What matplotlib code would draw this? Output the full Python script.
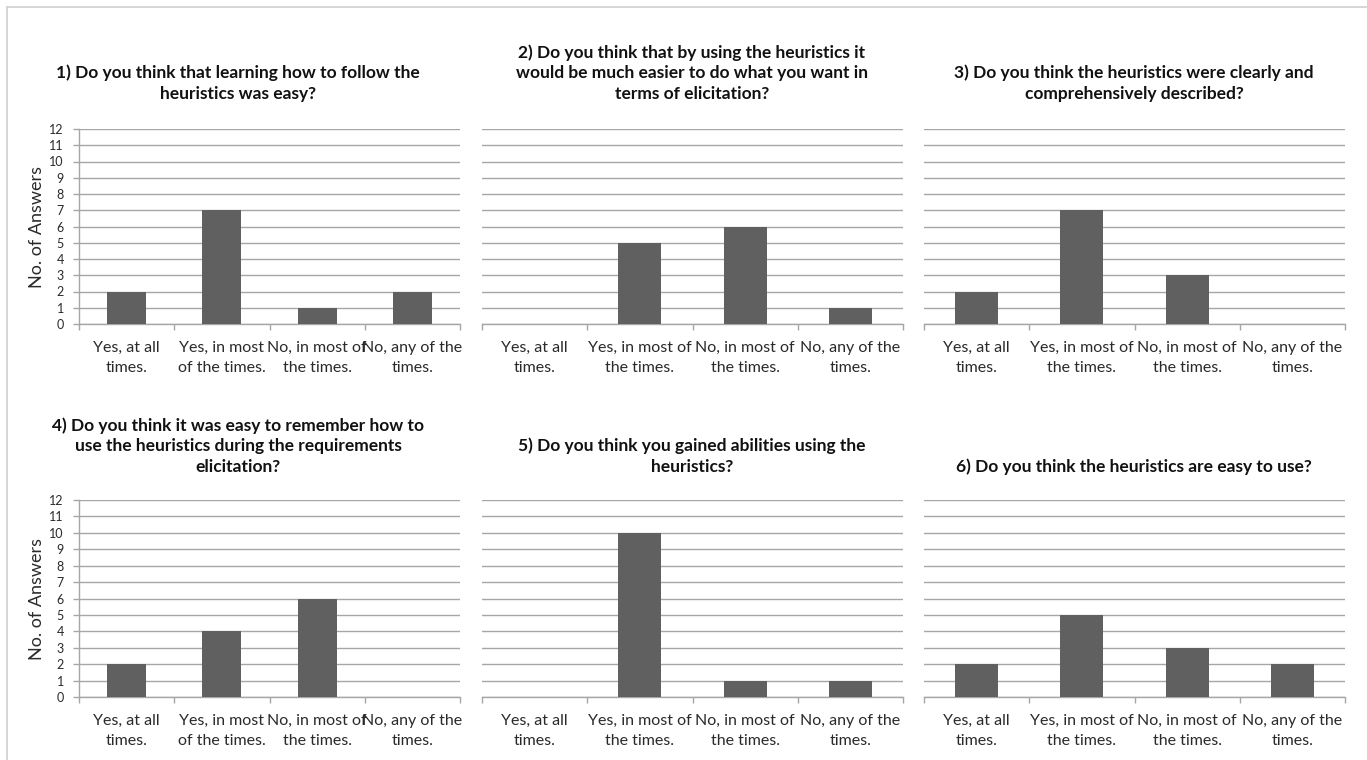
import matplotlib
matplotlib.use("Agg")
import matplotlib.pyplot as plt
from matplotlib.lines import Line2D

plt.rcParams['font.family'] = ['Lato', 'DejaVu Sans']

# ---- data ----
categories = ["Yes, at all times.", "Yes, in most of the times.",
              "No, in most of the times.", "No, any of the times."]
labels_narrow = ["Yes, at all\ntimes.", "Yes, in most\nof the times.",
                 "No, in most of\nthe times.", "No, any of the\ntimes."]
labels_wide = ["Yes, at all\ntimes.", "Yes, in most of\nthe times.",
               "No, in most of\nthe times.", "No, any of the\ntimes."]
titles = [
    "1) Do you think that learning how to follow the\nheuristics was easy?",
    "2) Do you think that by using the heuristics it\nwould be much easier to do what you want in\nterms of elicitation?",
    "3) Do you think the heuristics were clearly and\ncomprehensively described?",
    "4) Do you think it was easy to remember how to\nuse the heuristics during the requirements\nelicitation?",
    "5) Do you think you gained abilities using the\nheuristics?",
    "6) Do you think the heuristics are easy to use?",
]
q1 = [2, 7, 1, 2]
q2 = [0, 5, 6, 1]
q3 = [2, 7, 3, 0]
q4 = [2, 4, 6, 0]
q5 = [0, 10, 1, 1]
q6 = [2, 5, 3, 2]
values = [q1, q2, q3, q4, q5, q6]
y_ticks = list(range(0, 13))
ylabel = "No. of Answers"

W, H = 1367, 760
fig = plt.figure(figsize=(W / 100, H / 100), dpi=100)

def fx(px):
    return px / W

def fy(py):
    return 1 - py / H

# panel geometry in pixels: (left, right, top(12), bottom(0))
cols = [(79, 460), (482, 903), (924, 1345)]
rows = [(129, 324), (500, 697)]
title_cx = [238, 692, 1134]
title_bottom = [102, 475]

bar_color = "#606060"
grid_color = "#a6a6a6"

for i in range(6):
    r, c = divmod(i, 3)
    l, rr = cols[c]
    t, b = rows[r]
    ax = fig.add_axes([fx(l), fy(b), fx(rr - l), (b - t) / H])
    x = list(range(len(categories)))
    ax.bar(x, values[i], width=0.41, color=bar_color, zorder=3)
    ax.set_xlim(-0.5, 3.5)
    ax.set_ylim(0, 12)
    ax.set_yticks(y_ticks)
    ax.yaxis.grid(True, color=grid_color, linewidth=1.0, zorder=0)
    ax.set_axisbelow(True)
    for s in ["top", "right"]:
        ax.spines[s].set_visible(False)
    ax.spines["bottom"].set_color(grid_color)
    ax.spines["bottom"].set_linewidth(1.0)
    ax.set_xticks([-0.5, 0.5, 1.5, 2.5, 3.5])
    ax.set_xticklabels([])
    ax.tick_params(axis="x", direction="out", length=4, color=grid_color, width=1.0)
    labs = labels_narrow if c == 0 else labels_wide
    ax.set_xticks(x, minor=True)
    ax.set_xticklabels(labs, minor=True, fontsize=11.5, color="#2a2a2a",
                       linespacing=1.6)
    ax.tick_params(axis="x", which="minor", length=0, pad=12)
    if c == 0:
        ax.spines["left"].set_color(grid_color)
        ax.spines["left"].set_linewidth(1.0)
        ax.tick_params(axis="y", direction="out", length=4, color=grid_color,
                       width=1.0, labelsize=9, labelcolor="#2a2a2a", pad=7)
        ax.set_ylabel(ylabel, fontsize=13, color="#2a2a2a", labelpad=3)
    else:
        ax.spines["left"].set_visible(False)
        ax.tick_params(axis="y", length=0, labelleft=False)
    fig.text(fx(title_cx[c]), fy(title_bottom[r]), titles[i], ha="center",
             va="bottom", fontsize=12.5, fontweight="bold", color="#111111",
             linespacing=1.35)

# outer chart border
border = "#d0d0d0"
fig.add_artist(Line2D([fx(7), 1], [fy(7), fy(7)], color=border, linewidth=1.2))
fig.add_artist(Line2D([fx(7), fx(7)], [fy(7), 0], color=border, linewidth=1.2))

fig.savefig("out.png", dpi=100, facecolor="white")
